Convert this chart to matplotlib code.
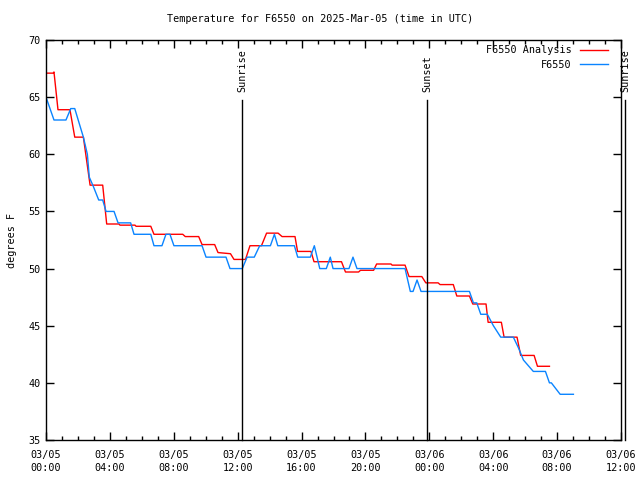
import matplotlib
matplotlib.use("Agg")
import matplotlib.pyplot as plt

# hours since 2025-03-05 00:00 UTC
blue_hours = [0.00, 0.50, 1.25, 1.55, 1.80, 2.34, 2.59, 2.71, 2.96, 3.30,
              3.55, 3.76, 4.26, 4.51, 5.30, 5.51, 6.56, 6.76, 7.26, 7.51,
              7.76, 8.01, 9.77, 10.02, 11.27, 11.52, 12.29, 12.59, 13.04, 13.38,
              14.05, 14.30, 14.51, 15.55, 15.76, 16.55, 16.80, 17.14, 17.55, 17.80,
              17.97, 18.97, 19.22, 19.47, 22.48, 22.81, 22.98, 23.23, 23.48, 26.51,
              26.76, 26.97, 27.22, 27.63, 28.01, 28.47, 29.26, 29.60, 29.89, 30.51,
              31.27, 31.52, 31.64, 32.19, 33.02]
blue_temps = [65.0, 63.0, 63.0, 64.0, 64.0, 61.5, 60.0, 58.0, 57.2, 56.0,
              56.0, 55.0, 55.0, 54.0, 54.0, 53.0, 53.0, 52.0, 52.0, 53.0,
              53.0, 52.0, 52.0, 51.0, 51.0, 50.0, 50.0, 51.0, 51.0, 52.0,
              52.0, 53.0, 52.0, 52.0, 51.0, 51.0, 52.0, 50.0, 50.0, 51.0,
              50.0, 50.0, 51.0, 50.0, 50.0, 48.0, 48.0, 49.0, 48.0, 48.0,
              47.0, 47.0, 46.0, 46.0, 45.0, 44.0, 44.0, 43.0, 42.0, 41.0,
              41.0, 40.0, 40.0, 39.0, 39.0]

red_hours = [0.00, 0.44, 0.50, 0.75, 1.50, 1.80, 2.34, 2.76, 3.55, 3.80,
             4.57, 4.63, 5.57, 5.64, 6.56, 6.76, 8.56, 8.72, 9.56, 9.77,
             10.56, 10.77, 11.55, 11.77, 12.49, 12.77, 13.49, 13.81, 14.53, 14.78,
             15.59, 15.75, 16.59, 16.78, 18.50, 18.75, 19.57, 19.69, 20.51, 20.70,
             21.60, 21.67, 22.48, 22.73, 23.53, 23.78, 24.55, 24.67, 25.50, 25.72,
             26.51, 26.72, 27.55, 27.68, 28.51, 28.68, 29.49, 29.72, 30.56, 30.77,
             31.52]
red_temps = [67.1, 67.1, 67.2, 63.9, 63.9, 61.5, 61.5, 57.3, 57.3, 53.9,
             53.9, 53.8, 53.8, 53.7, 53.7, 53.0, 53.0, 52.8, 52.8, 52.1,
             52.1, 51.4, 51.3, 50.8, 50.8, 52.0, 52.0, 53.1, 53.1, 52.8,
             52.8, 51.5, 51.5, 50.6, 50.6, 49.7, 49.7, 49.85, 49.85, 50.4,
             50.4, 50.3, 50.3, 49.3, 49.3, 48.75, 48.75, 48.6, 48.6, 47.6,
             47.6, 46.9, 46.9, 45.3, 45.3, 44.0, 44.0, 42.4, 42.4, 41.45,
             41.45]

sun_hours = [12.27, 23.87, 36.27]
sun_labels = ["Sunrise", "Sunset", "Sunrise"]

xtick_hours = [0, 4, 8, 12, 16, 20, 24, 28, 32, 36]
xtick_labels = ["03/05\n00:00", "03/05\n04:00", "03/05\n08:00", "03/05\n12:00",
                "03/05\n16:00", "03/05\n20:00", "03/06\n00:00", "03/06\n04:00",
                "03/06\n08:00", "03/06\n12:00"]
yticks = [35, 40, 45, 50, 55, 60, 65, 70]

_RED = "#ff0000"
_BLUE = "#0a84ff"
FONT = "DejaVu Sans Mono"
FS = 7.3

plt.rcParams.update({"font.family": FONT, "font.size": FS})

fig = plt.figure(figsize=(6.4, 4.8), dpi=100)
ax = fig.add_axes([46 / 640, 40 / 480, 575 / 640, 400 / 480])

ax.plot(red_hours, red_temps, color=_RED, linewidth=1.0, label="F6550 Analysis")
ax.plot(blue_hours, blue_temps, color=_BLUE, linewidth=1.0, label="F6550")

# sunrise / sunset markers (last one sits just past the right edge)
for h, lab in zip(sun_hours, sun_labels):
    ax.plot([h, h], [0, 0.85], color="black", linewidth=1.0,
            transform=ax.get_xaxis_transform(), clip_on=False)
    ax.text(h, 0.87, lab, rotation=90, ha="center", va="bottom",
            transform=ax.get_xaxis_transform(), fontsize=FS, clip_on=False)

ax.set_xlim(0, 36)
ax.set_ylim(35, 70)
ax.set_xticks(xtick_hours)
ax.set_xticklabels(xtick_labels, linespacing=1.45)
ax.set_xticks(range(0, 37), minor=True)
ax.set_yticks(yticks)
ax.tick_params(which="both", direction="in", top=True, right=True, width=1.0)
ax.tick_params(which="major", length=6, pad=7)
ax.tick_params(which="minor", length=3)
ax.tick_params(axis="y", which="major", pad=4)
for s in ax.spines.values():
    s.set_linewidth(1.0)

ax.set_ylabel("degrees F", labelpad=8)
fig.suptitle("Temperature for F6550 on 2025-Mar-05 (time in UTC)", y=0.97,
             fontsize=FS)

leg = ax.legend(loc="upper right", frameon=False, markerfirst=False,
                handlelength=2.8, handletextpad=0.8, borderaxespad=0.2,
                borderpad=0.2, labelspacing=0.45, fontsize=FS,
                bbox_to_anchor=(0.985, 0.997))
for t in leg.get_texts():
    t.set_ha("right")

fig.savefig("out.png", dpi=100)
